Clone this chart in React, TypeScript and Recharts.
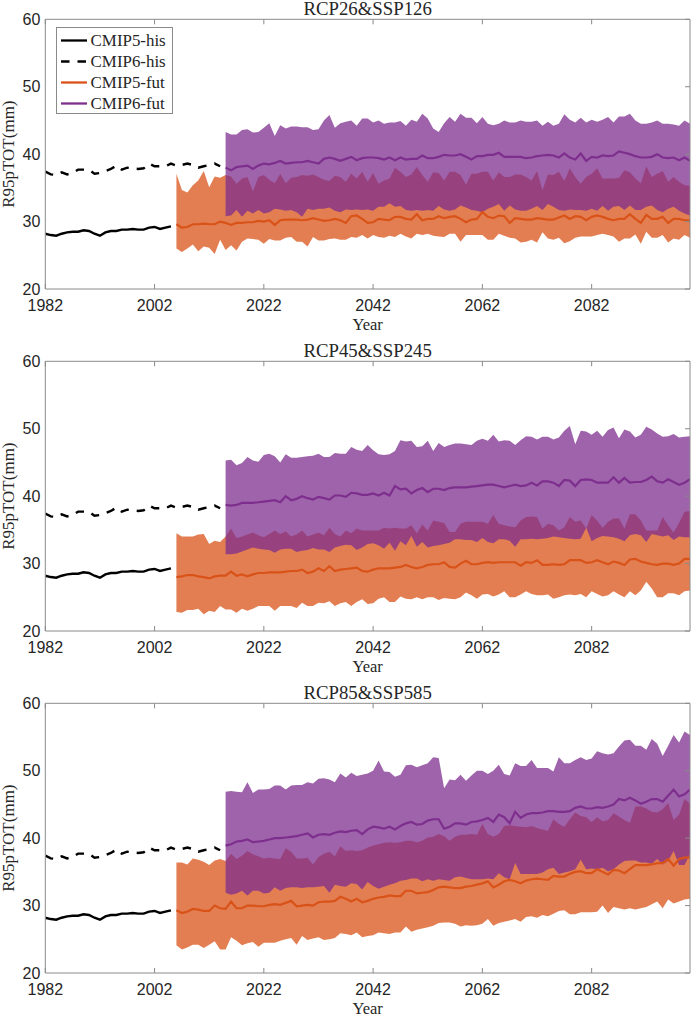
import {
  Area,
  ComposedChart,
  Legend,
  Line,
  XAxis,
  YAxis,
} from 'recharts'

const START_YEAR = 1982
const END_YEAR = 2100
const FUT5_START = 2006
const FUT6_START = 2015

const years = Array.from({ length: END_YEAR - START_YEAR + 1 }, (_, i) => START_YEAR + i)
const xTicks = [1982, 2002, 2022, 2042, 2062, 2082]
const yTicks = [20, 30, 40, 50, 60]

// historical runs are the same in every panel
const his5 = [28.2, 28.0, 27.9, 28.2, 28.4, 28.5, 28.5, 28.7, 28.6, 28.2, 27.9, 28.4, 28.6, 28.6, 28.8, 28.8, 28.9, 28.8, 28.8, 29.1, 29.2, 28.9, 29.1, 29.3]
const his6 = [37.4, 37.0, 36.9, 37.3, 37.0, 37.2, 37.7, 37.7, 37.7, 37.1, 37.2, 37.5, 37.8, 38.3, 37.7, 38.0, 37.9, 37.8, 37.9, 38.6, 38.2, 38.2, 38.2, 38.6, 38.3, 38.4, 38.6, 38.4, 38.0, 38.2, 38.4, 38.6, 38.2]

// RCP26 & SSP126
const fut5Hi126 = [37.1, 34.7, 34.3, 35.4, 36.1, 37.5, 35.1, 36.7, 36.5, 36.9, 36.7, 35.6, 36.4, 36.6, 34.5, 36.6, 36.9, 36.2, 35.7, 37.1, 35.7, 36.5, 36.6, 36.9, 36.8, 37.0, 36.6, 36.2, 36.0, 36.8, 36.6, 35.9, 37.1, 36.4, 37.4, 35.9, 37.2, 35.6, 36.1, 36.4, 38.0, 37.4, 36.6, 37.0, 38.1, 36.9, 35.9, 37.3, 37.2, 36.1, 37.4, 37.4, 36.9, 35.5, 37.1, 37.1, 37.4, 37.4, 36.1, 37.3, 36.6, 36.6, 37.0, 37.0, 36.6, 36.1, 37.5, 34.7, 37.0, 36.9, 37.4, 36.0, 37.9, 36.6, 35.6, 36.6, 37.1, 37.9, 36.4, 36.4, 36.4, 36.5, 37.6, 37.3, 36.4, 35.7, 38.2, 36.6, 37.1, 37.5, 35.9, 36.6, 35.9, 35.4, 35.3]
const fut5Lo126 = [26.0, 25.5, 26.0, 26.6, 25.6, 26.3, 26.1, 25.2, 27.3, 25.8, 26.5, 25.7, 27.0, 27.5, 27.4, 27.3, 26.7, 27.4, 27.2, 27.2, 27.6, 27.7, 27.0, 27.0, 26.3, 27.7, 27.2, 27.2, 27.4, 27.5, 27.3, 27.3, 27.7, 27.6, 28.0, 27.5, 28.0, 27.7, 27.6, 27.9, 27.7, 28.2, 27.8, 27.5, 28.2, 28.0, 28.2, 27.9, 27.8, 27.7, 28.2, 28.2, 27.0, 28.0, 28.0, 28.0, 28.0, 27.3, 27.3, 28.2, 27.9, 27.6, 27.5, 26.9, 27.0, 27.3, 26.9, 28.4, 27.5, 27.3, 27.6, 26.8, 27.1, 27.6, 27.8, 27.8, 27.8, 28.0, 28.2, 28.0, 27.8, 27.0, 27.5, 27.5, 28.1, 26.7, 28.5, 27.6, 27.6, 28.0, 26.9, 27.5, 27.3, 28.0, 27.6]
const fut5Mid126 = [29.6, 29.1, 29.2, 29.6, 29.6, 29.7, 29.6, 29.6, 30.0, 29.8, 29.5, 29.8, 29.8, 29.9, 29.9, 30.1, 30.0, 30.2, 29.5, 30.2, 30.3, 30.3, 30.3, 30.2, 30.3, 30.5, 30.3, 30.1, 30.2, 30.4, 30.2, 29.8, 30.8, 30.9, 30.4, 29.8, 29.9, 30.4, 30.3, 30.2, 30.7, 30.7, 30.4, 30.3, 31.1, 30.2, 30.4, 30.4, 30.8, 30.5, 30.7, 30.8, 30.4, 29.9, 30.3, 30.4, 31.4, 30.7, 30.5, 30.9, 30.8, 29.8, 30.5, 30.4, 30.3, 30.3, 30.5, 30.4, 30.3, 30.3, 30.6, 30.9, 30.4, 30.8, 30.7, 30.2, 30.7, 30.9, 30.7, 30.4, 30.2, 30.4, 30.4, 31.1, 30.4, 29.8, 31.0, 30.4, 30.4, 30.7, 29.8, 30.4, 30.4, 30.2, 30.2]
const fut6Hi126 = [43.3, 42.9, 42.9, 43.6, 43.7, 43.2, 43.3, 43.9, 44.6, 42.7, 44.3, 43.8, 44.1, 44.1, 44.0, 44.0, 43.6, 43.7, 45.0, 45.8, 43.9, 44.6, 44.8, 45.0, 44.2, 45.3, 45.3, 44.7, 45.0, 44.5, 44.7, 44.7, 44.9, 44.2, 45.1, 44.8, 46.0, 45.3, 43.8, 43.3, 44.6, 45.5, 44.8, 46.0, 45.4, 45.4, 44.6, 45.5, 44.5, 44.3, 44.5, 45.0, 44.7, 44.7, 45.0, 44.8, 44.8, 45.0, 44.2, 44.8, 44.2, 44.5, 45.9, 45.1, 44.7, 45.4, 44.7, 45.1, 44.8, 45.1, 45.5, 44.7, 45.6, 45.6, 46.0, 45.0, 44.5, 44.5, 44.7, 45.0, 44.5, 44.5, 44.4, 44.2, 45.0, 44.5]
const fut6Lo126 = [30.8, 30.9, 31.7, 30.7, 31.6, 31.2, 31.7, 31.2, 31.4, 31.9, 31.8, 31.6, 31.7, 31.4, 30.7, 31.9, 31.7, 31.9, 31.9, 32.1, 31.6, 31.4, 31.8, 31.7, 31.8, 31.7, 31.8, 31.6, 32.2, 32.2, 32.7, 32.2, 32.3, 31.7, 31.6, 31.7, 31.6, 31.7, 31.6, 32.3, 31.8, 31.6, 31.8, 32.4, 32.1, 31.7, 31.6, 31.4, 31.9, 32.2, 32.6, 31.6, 32.4, 31.8, 31.6, 31.6, 31.9, 32.3, 31.7, 32.6, 32.2, 31.7, 31.6, 31.8, 31.7, 31.7, 31.6, 31.9, 31.6, 32.3, 31.6, 32.2, 32.3, 31.7, 32.4, 31.7, 31.7, 32.2, 32.4, 31.7, 31.4, 31.9, 32.2, 31.6, 31.2, 30.9]
const fut6Mid126 = [38.0, 37.6, 38.1, 38.2, 38.3, 37.8, 38.3, 38.6, 38.5, 38.7, 39.0, 38.6, 38.7, 38.8, 38.8, 39.0, 38.8, 38.6, 39.3, 39.5, 39.3, 39.0, 39.3, 39.6, 39.1, 39.4, 39.5, 39.5, 39.4, 39.2, 39.5, 39.1, 39.5, 39.2, 39.3, 39.3, 39.8, 39.4, 39.4, 39.6, 39.9, 39.8, 39.8, 40.0, 39.6, 39.2, 39.7, 39.7, 39.9, 39.9, 40.2, 39.6, 39.6, 39.6, 39.6, 39.4, 39.5, 39.7, 39.8, 39.9, 39.8, 39.5, 40.1, 39.5, 39.2, 40.1, 39.0, 39.6, 39.5, 39.8, 39.7, 39.8, 40.4, 40.2, 40.0, 39.7, 39.5, 39.5, 39.6, 40.0, 39.5, 39.4, 39.5, 39.1, 39.5, 39.0]

// RCP45 & SSP245
const fut5Hi245 = [34.5, 34.0, 34.0, 34.0, 34.3, 34.4, 32.9, 33.4, 33.2, 34.0, 35.2, 33.8, 34.0, 34.3, 34.6, 34.2, 33.9, 34.4, 34.9, 34.4, 34.8, 34.0, 34.3, 34.9, 34.0, 34.3, 34.6, 34.2, 35.3, 34.4, 34.0, 34.9, 34.5, 35.2, 34.9, 34.9, 34.9, 34.9, 35.3, 35.2, 35.3, 35.2, 35.2, 35.7, 34.5, 35.8, 34.9, 36.4, 36.2, 36.0, 34.7, 34.7, 35.9, 36.2, 36.2, 36.2, 36.2, 35.9, 37.2, 35.9, 35.7, 35.5, 35.4, 36.4, 36.9, 37.0, 36.9, 35.2, 35.9, 35.7, 34.9, 35.4, 36.9, 36.2, 36.4, 35.2, 37.2, 36.4, 35.3, 36.2, 36.7, 36.7, 35.2, 37.3, 37.3, 36.4, 34.9, 34.9, 34.9, 36.9, 35.7, 34.6, 36.0, 37.7, 37.8]
const fut5Lo245 = [22.8, 22.7, 23.1, 23.1, 23.3, 22.5, 23.0, 22.8, 23.7, 23.2, 23.2, 22.7, 23.3, 23.0, 23.3, 23.7, 23.7, 23.7, 23.0, 23.7, 23.7, 23.7, 23.4, 24.2, 23.7, 23.7, 24.2, 24.1, 24.4, 23.7, 24.1, 24.3, 23.7, 24.3, 24.7, 24.0, 24.1, 24.8, 25.0, 24.3, 24.3, 25.1, 24.8, 24.7, 25.0, 24.7, 25.0, 25.0, 24.6, 24.9, 24.8, 24.7, 25.0, 25.7, 25.3, 24.8, 25.4, 25.5, 25.1, 25.4, 25.9, 25.0, 25.0, 25.4, 25.9, 25.5, 25.3, 25.3, 25.4, 24.8, 25.0, 25.3, 25.4, 25.3, 25.5, 25.0, 25.9, 25.5, 25.1, 25.3, 25.9, 25.4, 25.0, 25.9, 25.3, 26.0, 27.3, 26.3, 25.0, 25.0, 25.6, 25.6, 25.3, 25.9, 26.0]
const fut5Mid245 = [28.0, 28.1, 28.3, 28.3, 28.1, 28.0, 27.8, 28.1, 28.2, 28.2, 28.8, 28.2, 28.4, 28.1, 28.4, 28.6, 28.6, 28.7, 28.7, 28.7, 28.8, 28.9, 28.9, 29.1, 28.6, 28.8, 29.3, 28.9, 29.6, 28.9, 29.1, 29.2, 29.3, 29.4, 28.9, 28.8, 29.1, 29.3, 29.3, 29.3, 29.4, 29.5, 29.8, 29.5, 29.3, 29.5, 29.8, 29.9, 29.9, 30.2, 29.5, 29.4, 30.0, 30.4, 29.9, 29.9, 30.1, 30.2, 30.1, 30.2, 30.2, 30.2, 30.2, 29.7, 30.2, 30.1, 30.5, 29.8, 29.8, 29.9, 29.8, 29.9, 30.5, 30.5, 30.5, 30.1, 30.2, 30.5, 30.2, 29.9, 30.3, 30.1, 29.8, 30.6, 30.7, 30.3, 30.1, 29.9, 29.8, 30.0, 30.0, 29.8, 30.0, 30.7, 30.7]
const fut6Hi245 = [45.3, 45.4, 44.6, 44.9, 45.8, 45.3, 45.1, 46.1, 46.3, 45.9, 45.0, 46.2, 45.7, 45.7, 45.8, 45.9, 46.0, 46.3, 45.8, 45.8, 46.4, 46.3, 46.3, 47.3, 46.9, 46.7, 47.6, 46.8, 46.2, 46.1, 46.2, 46.7, 48.3, 48.1, 48.2, 47.3, 47.4, 48.2, 46.7, 47.9, 47.3, 47.6, 47.8, 47.8, 47.7, 47.6, 48.2, 48.5, 48.2, 49.1, 48.1, 48.3, 48.2, 47.6, 48.3, 48.9, 48.8, 48.4, 48.8, 48.8, 48.4, 48.7, 49.7, 50.4, 47.7, 49.7, 49.6, 49.1, 49.7, 48.8, 49.8, 50.2, 48.6, 49.9, 49.6, 48.7, 49.1, 50.3, 49.9, 49.3, 48.8, 48.9, 49.2, 48.7, 48.8, 48.9]
const fut6Lo245 = [31.4, 31.4, 31.5, 31.8, 32.1, 32.4, 32.2, 32.1, 32.0, 31.6, 32.1, 32.2, 32.2, 31.7, 31.9, 32.0, 32.3, 32.1, 32.1, 31.7, 32.4, 32.6, 32.8, 32.7, 32.0, 32.4, 32.9, 33.0, 32.7, 32.2, 33.1, 31.9, 33.3, 32.7, 34.1, 32.5, 33.2, 32.4, 32.6, 32.7, 32.9, 33.1, 33.6, 33.6, 33.5, 33.5, 33.2, 33.8, 33.2, 33.0, 33.6, 33.6, 33.4, 32.5, 33.6, 33.6, 33.7, 33.6, 33.7, 33.8, 34.0, 33.9, 33.8, 33.7, 33.6, 33.7, 35.3, 33.3, 33.8, 34.1, 34.0, 33.9, 33.7, 33.3, 34.2, 34.4, 34.2, 33.2, 34.4, 34.2, 34.0, 34.2, 33.5, 34.0, 33.9, 33.9]
const fut6Mid245 = [38.7, 38.6, 38.7, 39.0, 39.0, 39.0, 39.1, 39.2, 39.3, 39.4, 39.1, 40.0, 39.4, 39.6, 40.0, 39.7, 39.5, 39.9, 39.7, 39.5, 40.1, 40.1, 39.9, 40.5, 40.4, 40.2, 40.2, 40.4, 40.1, 40.5, 40.1, 41.5, 41.0, 41.1, 40.4, 40.9, 41.2, 40.6, 41.1, 41.1, 40.9, 41.2, 41.3, 41.3, 41.3, 41.4, 41.5, 41.6, 41.7, 41.7, 41.5, 41.3, 41.5, 41.7, 41.5, 41.6, 42.0, 41.6, 42.2, 42.2, 42.0, 41.5, 42.4, 42.3, 41.5, 42.4, 42.5, 42.4, 42.0, 42.0, 42.0, 42.8, 42.0, 42.7, 42.0, 42.1, 42.1, 42.4, 42.9, 42.2, 42.0, 42.5, 42.1, 41.7, 42.0, 42.5]

// RCP85 & SSP585
const fut5Hi585 = [36.4, 36.4, 36.1, 37.0, 36.8, 36.5, 36.0, 36.7, 36.9, 36.6, 37.7, 36.9, 37.4, 38.1, 37.6, 37.3, 37.0, 37.1, 37.0, 36.9, 38.5, 38.0, 37.0, 37.0, 37.1, 36.1, 37.2, 37.7, 38.0, 37.3, 38.8, 38.1, 38.2, 38.1, 38.2, 38.6, 38.9, 39.1, 39.3, 39.4, 39.3, 39.4, 39.6, 39.6, 39.4, 39.6, 40.1, 40.2, 40.6, 40.3, 39.6, 40.2, 40.5, 40.5, 40.6, 40.5, 42.1, 40.6, 40.2, 40.6, 41.8, 41.9, 41.8, 41.7, 41.6, 41.8, 41.5, 41.3, 41.1, 42.8, 42.1, 41.7, 42.8, 43.8, 43.3, 43.1, 42.4, 43.1, 42.5, 42.7, 43.7, 43.2, 42.7, 42.3, 44.7, 44.7, 44.4, 43.9, 43.8, 44.3, 45.2, 42.7, 43.5, 45.8, 45.1]
const fut5Lo585 = [24.1, 23.5, 23.8, 24.2, 24.2, 23.7, 24.2, 24.7, 23.5, 23.5, 25.3, 24.8, 24.1, 24.4, 24.6, 23.9, 24.5, 24.5, 24.5, 24.8, 25.0, 25.2, 24.2, 25.5, 24.9, 25.1, 25.3, 24.9, 25.0, 25.2, 25.9, 25.8, 25.6, 26.0, 25.3, 25.5, 25.6, 26.0, 25.9, 25.8, 26.0, 26.0, 26.9, 26.1, 26.4, 26.6, 26.8, 27.0, 27.4, 27.5, 27.5, 27.3, 26.9, 27.1, 27.0, 27.1, 27.3, 28.0, 27.0, 27.4, 27.6, 27.8, 28.0, 27.6, 28.3, 28.4, 28.2, 28.6, 28.4, 28.8, 29.2, 29.3, 28.7, 28.7, 29.0, 29.0, 29.0, 29.1, 30.0, 28.9, 29.8, 29.6, 29.4, 29.6, 29.4, 29.6, 29.8, 30.2, 30.6, 29.6, 30.9, 30.3, 30.6, 30.9, 31.0]
const fut5Mid585 = [29.3, 28.9, 29.1, 29.5, 29.4, 29.2, 29.2, 30.0, 29.6, 29.5, 30.6, 29.6, 29.6, 30.0, 30.0, 29.9, 29.9, 30.1, 30.2, 30.1, 30.4, 30.7, 29.9, 30.0, 30.1, 30.0, 30.5, 30.6, 30.6, 30.7, 31.3, 31.0, 30.6, 31.0, 30.5, 30.7, 31.0, 31.2, 31.3, 31.5, 31.4, 31.4, 32.2, 32.2, 31.8, 31.9, 32.0, 32.3, 32.7, 32.8, 32.7, 32.6, 32.6, 32.8, 32.9, 33.1, 33.3, 33.6, 32.7, 33.1, 33.6, 33.8, 33.6, 33.3, 33.7, 33.9, 34.0, 33.9, 33.8, 34.4, 34.3, 34.3, 34.7, 35.0, 35.1, 34.8, 34.8, 35.4, 35.0, 34.6, 35.3, 35.2, 34.8, 35.4, 36.0, 36.0, 36.0, 36.1, 36.3, 36.3, 36.9, 35.9, 36.9, 37.1, 37.1]
const fut6Hi585 = [46.9, 47.0, 46.9, 46.8, 48.3, 46.7, 47.2, 47.2, 47.3, 47.8, 47.8, 47.2, 47.8, 47.9, 47.9, 48.3, 48.1, 48.8, 48.9, 48.7, 48.3, 49.6, 49.0, 49.7, 49.2, 49.4, 49.6, 50.0, 51.5, 49.9, 49.8, 49.1, 49.4, 50.8, 50.9, 50.5, 50.8, 51.1, 52.0, 51.9, 47.4, 48.7, 48.6, 49.4, 48.5, 49.3, 50.0, 50.0, 49.5, 50.0, 50.9, 49.5, 49.3, 51.1, 50.7, 50.7, 51.6, 50.4, 50.4, 50.4, 49.9, 52.0, 51.1, 51.1, 51.6, 52.0, 51.6, 51.8, 52.9, 52.6, 52.4, 52.6, 53.6, 54.5, 54.6, 53.7, 53.7, 53.1, 54.7, 54.0, 52.2, 53.7, 55.3, 54.2, 55.8, 55.3]
const fut6Lo585 = [31.9, 31.6, 31.8, 32.2, 31.5, 32.2, 32.2, 31.8, 31.9, 32.7, 32.2, 32.6, 32.7, 32.7, 32.6, 32.7, 32.7, 32.8, 32.9, 31.9, 33.1, 32.9, 32.8, 33.3, 33.2, 32.4, 33.5, 32.9, 32.5, 32.8, 33.1, 33.3, 33.7, 33.8, 34.0, 34.0, 33.6, 33.9, 33.7, 33.9, 33.8, 33.7, 34.2, 34.3, 34.1, 33.9, 33.9, 33.9, 34.0, 33.9, 34.8, 34.2, 33.9, 36.3, 34.7, 34.7, 34.7, 34.7, 34.9, 35.4, 35.6, 34.7, 34.9, 35.1, 35.4, 36.8, 35.4, 35.5, 35.4, 35.6, 35.1, 35.4, 36.1, 36.6, 36.7, 36.7, 36.4, 36.4, 36.2, 36.9, 36.1, 36.6, 38.1, 36.0, 36.0, 37.6]
const fut6Mid585 = [38.9, 39.1, 39.5, 39.6, 39.8, 39.4, 39.5, 39.6, 39.8, 40.0, 40.0, 40.1, 40.2, 40.3, 40.5, 40.7, 40.1, 40.5, 40.6, 40.5, 40.8, 41.0, 40.9, 41.1, 41.2, 40.6, 41.3, 41.7, 41.6, 41.4, 41.7, 41.3, 41.8, 42.2, 42.4, 42.0, 42.1, 42.6, 42.8, 42.8, 41.4, 41.7, 42.2, 42.2, 42.0, 42.4, 42.5, 42.7, 43.0, 42.4, 43.5, 43.1, 42.2, 43.9, 43.0, 43.5, 43.7, 43.7, 43.8, 44.0, 44.0, 43.9, 43.9, 44.0, 44.5, 44.7, 44.4, 44.4, 44.6, 44.5, 44.7, 45.0, 45.8, 45.6, 46.0, 45.6, 45.1, 45.4, 45.8, 45.8, 45.4, 46.3, 47.2, 46.2, 46.5, 47.2]

const colors = {
  his: '#000000',
  fut5: '#D95319',
  fut6: '#7E2F8E',
  frame: '#8a8a8a',
  tick: '#262626',
}

const sans = '"Liberation Sans", Arial, sans-serif'
const serif = '"Liberation Serif", "Times New Roman", serif'

function at(list: number[], start: number, year: number) {
  const v = list[year - start]
  return v === undefined ? null : v
}

function buildRows(p: any) {
  return years.map((year) => {
    const lo5 = at(p.fut5Lo, FUT5_START, year)
    const hi5 = at(p.fut5Hi, FUT5_START, year)
    const lo6 = at(p.fut6Lo, FUT6_START, year)
    const hi6 = at(p.fut6Hi, FUT6_START, year)
    return {
      year,
      his5: at(his5, START_YEAR, year),
      his6: at(his6, START_YEAR, year),
      fut5: at(p.fut5Mid, FUT5_START, year),
      fut6: at(p.fut6Mid, FUT6_START, year),
      band5: lo5 === null || hi5 === null ? null : [lo5, hi5],
      band6: lo6 === null || hi6 === null ? null : [lo6, hi6],
    }
  })
}

const panels = [
  { title: 'RCP26&SSP126', top: -8, legend: true, fut5Hi: fut5Hi126, fut5Lo: fut5Lo126, fut5Mid: fut5Mid126, fut6Hi: fut6Hi126, fut6Lo: fut6Lo126, fut6Mid: fut6Mid126 },
  { title: 'RCP45&SSP245', top: 334, legend: false, fut5Hi: fut5Hi245, fut5Lo: fut5Lo245, fut5Mid: fut5Mid245, fut6Hi: fut6Hi245, fut6Lo: fut6Lo245, fut6Mid: fut6Mid245 },
  { title: 'RCP85&SSP585', top: 675.7, legend: false, fut5Hi: fut5Hi585, fut5Lo: fut5Lo585, fut5Mid: fut5Mid585, fut6Hi: fut6Hi585, fut6Lo: fut6Lo585, fut6Mid: fut6Mid585 },
]

function LegendBox({ payload }: any) {
  const items = (payload || []).filter((entry: any) => entry.type !== 'none')
  return (
    <div
      style={{
        boxSizing: 'border-box',
        width: 117,
        height: 87,
        paddingTop: 2,
        background: '#fff',
        border: `1px solid ${colors.frame}`,
        fontFamily: serif,
        fontSize: 16.9,
        color: '#262626',
      }}
    >
      {items.map((entry: any) => (
        <div key={entry.value} style={{ display: 'flex', alignItems: 'center', height: 21, whiteSpace: 'nowrap' }}>
          <svg width={34} height={21} style={{ flex: 'none' }}>
            <line
              x1={4}
              x2={30}
              y1={10.5}
              y2={10.5}
              stroke={entry.color}
              strokeWidth={2.3}
              strokeDasharray={entry.payload?.strokeDasharray}
            />
          </svg>
          {entry.value}
        </div>
      ))}
    </div>
  )
}

function Panel({ panel }: { panel: any }) {
  const rows = buildRows(panel)
  return (
    <div style={{ position: 'absolute', left: 0, top: panel.top }}>
      <ComposedChart
        width={692}
        height={342}
        data={rows}
        margin={{ top: 26.3, right: 1, bottom: 0, left: 0 }}
      >
        <XAxis
          dataKey="year"
          type="number"
          domain={[START_YEAR, END_YEAR]}
          allowDataOverflow
          ticks={xTicks}
          interval={0}
          height={45}
          tickSize={-5}
          tickMargin={16}
          tick={{ fontSize: 16, fontFamily: sans, fill: colors.tick }}
          stroke={colors.frame}
          label={{ value: 'Year', position: 'insideBottom', offset: 4, style: { fontFamily: serif, fontSize: 16.5, fill: colors.tick } }}
        />
        <XAxis
          xAxisId="top"
          orientation="top"
          dataKey="year"
          type="number"
          domain={[START_YEAR, END_YEAR]}
          allowDataOverflow
          ticks={xTicks}
          interval={0}
          height={1}
          tickSize={-5}
          tickFormatter={() => ''}
          stroke={colors.frame}
          label={{ value: panel.title, position: 'top', offset: 3, style: { fontFamily: serif, fontSize: 18.8, fill: colors.tick } }}
        />
        <YAxis
          type="number"
          domain={[20, 60]}
          allowDataOverflow
          ticks={yTicks}
          interval={0}
          width={45.3}
          tickLine={false}
          tickSize={-5}
          tickMargin={10}
          tick={{ fontSize: 16, fontFamily: sans, fill: colors.tick }}
          stroke={colors.frame}
          label={{ value: 'R95pTOT(mm)', angle: -90, position: 'insideLeft', offset: 8, style: { textAnchor: 'middle', fontFamily: serif, fontSize: 17, fill: colors.tick } }}
        />
        <YAxis
          yAxisId="right"
          orientation="right"
          type="number"
          domain={[20, 60]}
          allowDataOverflow
          ticks={yTicks}
          interval={0}
          width={1}
          tickSize={-5}
          tickFormatter={() => ''}
          stroke={colors.frame}
        />
        <Area dataKey="band5" stroke="none" fill={colors.fut5} fillOpacity={0.75} dot={false} activeDot={false} legendType="none" isAnimationActive={false} />
        <Area dataKey="band6" stroke="none" fill={colors.fut6} fillOpacity={0.75} dot={false} activeDot={false} legendType="none" isAnimationActive={false} />
        <Line dataKey="his5" name="CMIP5-his" stroke={colors.his} strokeWidth={2.4} dot={false} activeDot={false} isAnimationActive={false} />
        <Line dataKey="his6" name="CMIP6-his" stroke={colors.his} strokeWidth={2.4} strokeDasharray="8.5 8" dot={false} activeDot={false} isAnimationActive={false} />
        <Line dataKey="fut5" name="CMIP5-fut" stroke={colors.fut5} strokeWidth={2.2} dot={false} activeDot={false} isAnimationActive={false} />
        <Line dataKey="fut6" name="CMIP6-fut" stroke={colors.fut6} strokeWidth={2.2} dot={false} activeDot={false} isAnimationActive={false} />
        {panel.legend && (
          <Legend
            layout="vertical"
            align="center"
            verticalAlign="middle"
            itemSorter={null}
            content={<LegendBox />}
            wrapperStyle={{ left: 55.6, top: 35, width: 117, height: 87 }}
          />
        )}
      </ComposedChart>
    </div>
  )
}

export default function App() {
  return (
    <div style={{ position: 'absolute', left: 0, top: 0, width: 692, height: 1017, overflow: 'hidden', background: '#fff' }}>
      {panels.map((panel) => (
        <Panel key={panel.title} panel={panel} />
      ))}
    </div>
  )
}
